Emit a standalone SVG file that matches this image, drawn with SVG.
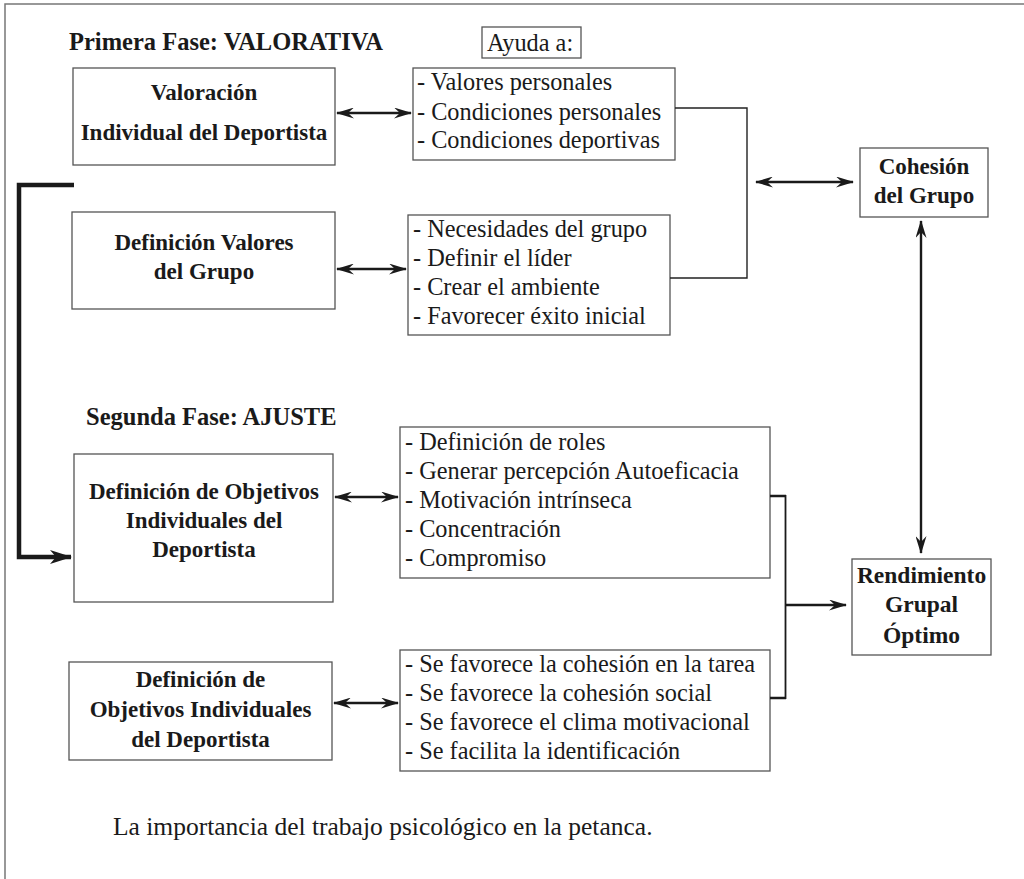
<svg xmlns="http://www.w3.org/2000/svg" width="1024" height="879" viewBox="0 0 1024 879">
<style>
text{font-family:"Liberation Serif","Times New Roman",serif;fill:#1a1a1a}
.b{font-weight:bold;font-size:23px;text-anchor:middle}
.h{font-weight:bold;font-size:24.5px}
.r{font-size:24.3px}
.box{fill:#fff;stroke:#555;stroke-width:1.3}
.thin{fill:none;stroke:#222;stroke-width:1.4}
.med{fill:none;stroke:#1a1a1a;stroke-width:2.4}
</style>
<defs>
<marker id="ah" viewBox="0 0 18 11" refX="17" refY="5.5" markerWidth="18" markerHeight="11" markerUnits="userSpaceOnUse" orient="auto-start-reverse"><path d="M0,0 L18,5.5 L0,11 L6,5.5 z" fill="#1a1a1a"/></marker>
<marker id="ahb" viewBox="0 0 22 14" refX="21" refY="7" markerWidth="22" markerHeight="14" markerUnits="userSpaceOnUse" orient="auto"><path d="M0,0 L22,7 L0,14 L6,7 z" fill="#1a1a1a"/></marker>
</defs>
<rect x="0" y="0" width="1024" height="879" fill="#fff"/>
<path d="M5,879 V4 H1024" fill="none" stroke="#777" stroke-width="1.5"/>

<g id="titles">
<text class="h" x="69" y="50">Primera Fase: VALORATIVA</text>
<text class="h" x="86" y="425">Segunda Fase: AJUSTE</text>
<text class="r" x="113" y="835" style="font-size:25.5px">La importancia del trabajo psicológico en la petanca.</text>
</g>

<g id="ayuda">
<rect class="box" x="482" y="27" width="99" height="31"/>
<text class="r" x="487" y="51">Ayuda a:</text>
</g>

<g id="n1">
<rect class="box" x="73" y="68" width="262" height="97"/>
<text class="b" x="204" y="100">Valoración</text>
<text class="b" x="204" y="140">Individual del Deportista</text>
</g>
<g id="l1">
<rect class="box" x="413" y="68" width="262" height="92"/>
<text class="r" x="417" y="90">- Valores personales</text>
<text class="r" x="417" y="120">- Condiciones personales</text>
<text class="r" x="417" y="148">- Condiciones deportivas</text>
</g>

<g id="n2">
<rect class="box" x="72" y="212" width="263" height="97"/>
<text class="b" x="204" y="250">Definición Valores</text>
<text class="b" x="204" y="279">del Grupo</text>
</g>
<g id="l2">
<rect class="box" x="408" y="215" width="262" height="120"/>
<text class="r" x="413" y="237">- Necesidades del grupo</text>
<text class="r" x="413" y="266">- Definir el líder</text>
<text class="r" x="413" y="295">- Crear el ambiente</text>
<text class="r" x="413" y="324">- Favorecer éxito inicial</text>
</g>

<g id="cohesion">
<rect class="box" x="860" y="148" width="128" height="69"/>
<text class="b" x="924" y="174">Cohesión</text>
<text class="b" x="924" y="203">del Grupo</text>
</g>

<g id="n3">
<rect class="box" x="74" y="454" width="259" height="148"/>
<text class="b" x="204" y="499">Definición de Objetivos</text>
<text class="b" x="204" y="528">Individuales del</text>
<text class="b" x="204" y="557">Deportista</text>
</g>
<g id="l3">
<rect class="box" x="400" y="427" width="370" height="151"/>
<text class="r" x="405" y="450">- Definición de roles</text>
<text class="r" x="405" y="479">- Generar percepción Autoeficacia</text>
<text class="r" x="405" y="508">- Motivación intrínseca</text>
<text class="r" x="405" y="537">- Concentración</text>
<text class="r" x="405" y="566">- Compromiso</text>
</g>

<g id="rendimiento">
<rect class="box" x="852" y="559" width="139" height="96"/>
<text class="b" x="921.5" y="583" style="font-size:23.5px">Rendimiento</text>
<text class="b" x="921.5" y="612" style="font-size:23.5px">Grupal</text>
<text class="b" x="921.5" y="643" style="font-size:23.5px">Óptimo</text>
</g>

<g id="n4">
<rect class="box" x="69" y="662" width="263" height="98"/>
<text class="b" x="200.5" y="687">Definición de</text>
<text class="b" x="200.5" y="717">Objetivos Individuales</text>
<text class="b" x="200.5" y="747">del Deportista</text>
</g>
<g id="l4">
<rect class="box" x="400" y="650" width="370" height="121"/>
<text class="r" x="405" y="672">- Se favorece la cohesión en la tarea</text>
<text class="r" x="405" y="701">- Se favorece la cohesión social</text>
<text class="r" x="405" y="730">- Se favorece el clima motivacional</text>
<text class="r" x="405" y="759">- Se facilita la identificación</text>
</g>

<g id="connectors">
<line class="med" x1="337" y1="113" x2="411" y2="113" marker-start="url(#ah)" marker-end="url(#ah)"/>
<line class="med" x1="337" y1="269" x2="406" y2="269" marker-start="url(#ah)" marker-end="url(#ah)"/>
<line class="med" x1="335" y1="497" x2="398" y2="497" marker-start="url(#ah)" marker-end="url(#ah)"/>
<line class="med" x1="334" y1="703" x2="398" y2="703" marker-start="url(#ah)" marker-end="url(#ah)"/>
<path class="thin" d="M675,108 H747 V278 H670"/>
<line class="med" x1="756" y1="182" x2="853" y2="182" marker-start="url(#ah)" marker-end="url(#ah)"/>
<line class="med" x1="921" y1="221" x2="921" y2="553" stroke-width="2.8" marker-start="url(#ah)" marker-end="url(#ah)"/>
<path class="med" d="M770,496 H786 M770,698 H786"/>
<line x1="785.5" y1="495" x2="785.5" y2="699" stroke="#1a1a1a" stroke-width="1.8"/>
<line class="med" x1="785" y1="605" x2="846" y2="605" marker-end="url(#ah)"/>
<path d="M74,185 H19 V557 H71" fill="none" stroke="#1a1a1a" stroke-width="4.5" marker-end="url(#ahb)"/>
</g>
</svg>
